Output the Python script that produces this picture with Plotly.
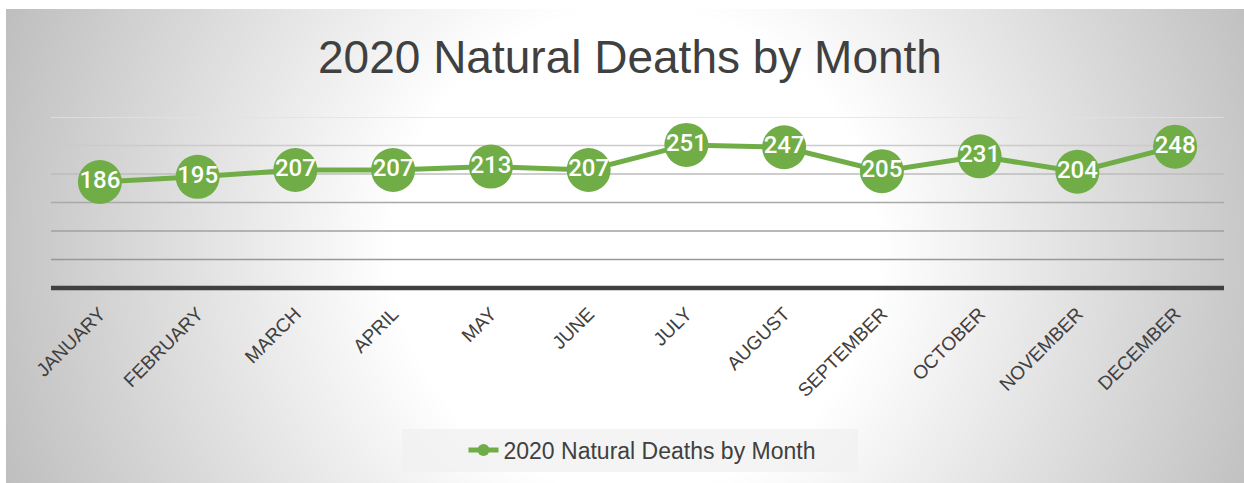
import base64, struct, zlib
import numpy as np
import plotly.graph_objects as go

months = ["JANUARY", "FEBRUARY", "MARCH", "APRIL", "MAY", "JUNE", "JULY",
          "AUGUST", "SEPTEMBER", "OCTOBER", "NOVEMBER", "DECEMBER"]
deaths = [186, 195, 207, 207, 213, 207, 251, 247, 205, 231, 204, 248]
series_name = "2020 Natural Deaths by Month"
title_text = "2020 Natural Deaths by Month"
grid_values = [50, 100, 150, 200, 250, 300]
grid_colors = ["#989898", "#a0a0a0", "#a9a9a9", "#bdbdbd", "#cbcbcb", "#e2e2e2"]

W, H = 1244, 483
L, R, T, B = 51, 20, 117, 195
PW, PH = W - L - R, H - T - B
GREEN = "#70AD47"
TXT = "#404040"


def png_uri(gray):
    h, w = gray.shape
    raw = b"".join(b"\x00" + gray[y].tobytes() for y in range(h))

    def chunk(tag, data):
        return (struct.pack(">I", len(data)) + tag + data +
                struct.pack(">I", zlib.crc32(tag + data) & 0xffffffff))
    png = (b"\x89PNG\r\n\x1a\n" +
           chunk(b"IHDR", struct.pack(">IIBBBBB", w, h, 8, 0, 0, 0, 0)) +
           chunk(b"IDAT", zlib.compress(raw, 9)) + chunk(b"IEND", b""))
    return "data:image/png;base64," + base64.b64encode(png).decode()


# radial background gradient for the chart frame
fx0, fy0, fx1, fy1 = 6, 9, W, H
yy, xx = np.mgrid[fy0:fy1, fx0:fx1].astype(float)
d = np.hypot(xx - 635, yy - 250)
val = 255 - np.clip((d - 245) * 0.15, 0, 66)
bg = np.clip(val, 0, 255).astype(np.uint8)


def px_x(px):
    return (px - L) / PW


def px_y(py):
    return (H - B - py) / PH


fig = go.Figure()
fig.add_trace(go.Scatter(
    x=months, y=deaths, name=series_name,
    mode="lines+markers+text",
    line=dict(color=GREEN, width=5),
    marker=dict(color=GREEN, size=44),
    text=[str(v) for v in deaths],
    textposition="middle center",
    textfont=dict(family="Roboto", size=24, color="white", weight=500),
    cliponaxis=False,
    showlegend=True,
    hoverinfo="skip",
))

shapes = []
for v, c in zip(grid_values, grid_colors):
    shapes.append(dict(type="line", xref="paper", yref="y", x0=0, x1=1, y0=v, y1=v,
                       line=dict(color=c, width=1.5), layer="below"))
shapes.append(dict(type="line", xref="paper", yref="paper", x0=0, x1=1, y0=0, y1=0,
                   line=dict(color="#404040", width=4.5), layer="below"))
shapes.append(dict(type="rect", xref="paper", yref="paper",
                   x0=px_x(402), x1=px_x(858), y0=px_y(472), y1=px_y(429),
                   fillcolor="rgba(240,240,240,0.75)", line=dict(width=0), layer="below"))

fig.update_layout(
    width=W, height=H,
    margin=dict(l=L, r=R, t=T, b=B),
    paper_bgcolor="white",
    plot_bgcolor="rgba(0,0,0,0)",
    font=dict(family="Liberation Sans", color=TXT),
    title=dict(text=title_text, x=630 / W, xref="container", xanchor="center",
               y=1 - 57 / H, yref="container", yanchor="middle",
               font=dict(size=46, color=TXT, family="Liberation Sans")),
    xaxis=dict(range=[-0.5, 11.5], showgrid=False, zeroline=False, showline=False,
               tickangle=-45, tickfont=dict(size=19, color=TXT),
               ticks="", ticklabelstandoff=10, fixedrange=True),
    yaxis=dict(range=[0, 300], showgrid=False, zeroline=False, showline=False,
               showticklabels=False, ticks="", fixedrange=True),
    legend=dict(orientation="h", x=px_x(642), xanchor="center",
                y=px_y(450), yanchor="middle", bgcolor="rgba(0,0,0,0)",
                font=dict(size=23, color=TXT), itemsizing="constant"),
    shapes=shapes,
    images=[dict(source=png_uri(bg), xref="paper", yref="paper",
                 x=px_x(fx0), y=px_y(fy0), sizex=(fx1 - fx0) / PW, sizey=(fy1 - fy0) / PH,
                 xanchor="left", yanchor="top", sizing="stretch", layer="below")],
)

fig.write_html("out.html", config={"displayModeBar": False},
               post_script="document.body.style.margin='0';document.body.style.overflow='hidden';")
